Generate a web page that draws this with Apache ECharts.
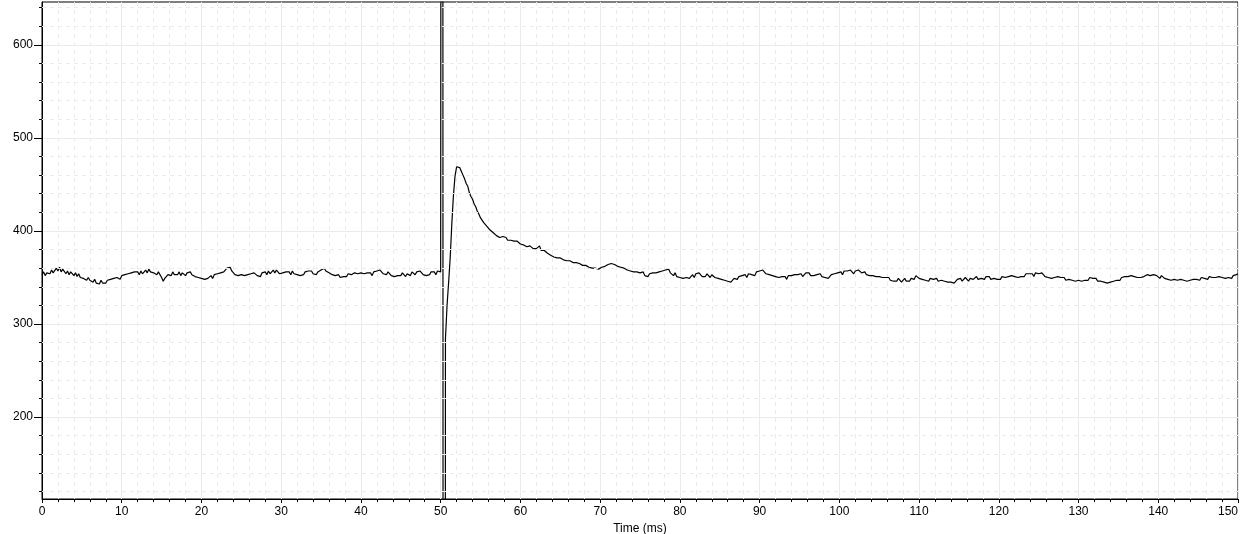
<!DOCTYPE html>
<html>
<head>
<meta charset="utf-8">
<script src="https://cdn.jsdelivr.net/npm/echarts@6/dist/echarts.min.js"></script>
<style>
html,body{margin:0;padding:0;background:#fff;}
#chart{width:1242px;height:534px;}
</style>
</head>
<body>
<div id="chart"></div>
<script>
// sampling interval of the trace (ms)
const sampleStep = 0.2;
// trace values, one per sample from t = 0 to t = 150 ms
const traceValues = [
353,356,352,355,357, 354,358,355,357,360, 357,361,356,359,357, 354,357,353,356,355, 352,355,351,354,350,
352,349,351,347,350, 347,349,345,348,344, 346,343,347,344,346, 344,347,345,348,346, 349,347,350,351,348,
352,350,353,351,354, 352,355,353,356,354, 356,353,357,354,356, 358,355,359,356,358, 355,357,353,356,354,
350,346,349,351,353, 355,352,356,353,355, 353,356,352,355,354, 352,355,353,356,353, 354,351,353,350,352,
349,347,348,346,349, 350,352,349,353,351, 354,352,355,353,356, 357,360,358,361,357, 356,353,355,352,354,
353,355,352,354,353, 351,354,352,355,353, 352,354,351,355,353, 356,353,357,354,356, 358,355,358,356,354,
352,355,353,356,354, 356,353,357,354,355, 353,355,352,354,353, 356,354,357,355,357, 354,356,353,356,355,
358,356,360,357,358, 355,357,353,355,352, 351,353,350,352,351, 353,351,354,352,353, 352,355,353,354,352,
355,353,354,352,355, 353,355,352,356,354, 357,355,358,356,354, 355,353,356,354,352, 354,351,353,352,354,
352,355,353,351,354, 355,352,356,354,353, 356,354,357,355,353, 355,352,354,353,356, 354,356,353,357,355,
356,3000,-3000,284,320, 345,372,408,438,459, 469,471,468,464,460, 456,451,448,441,437, 434,429,426,421,418,
414,412,409,408,405, 404,401,401,398,397, 395,396,393,393,394, 392,393,390,389,390, 388,389,387,389,388,
386,387,385,385,383, 384,384,382,381,383, 381,380,384,379,378, 379,377,376,375,374, 373,372,371,371,369,
371,370,369,370,368, 367,368,366,366,365, 366,364,365,363,363, 362,363,361,361,360, 360,359,360,358,359,
360,361,360,362,362, 364,363,365,364,364, 363,362,363,361,359, 360,358,358,356,357, 356,356,355,356,355,
355,353,356,352,354, 351,354,352,355,353, 355,353,356,354,357, 355,358,356,359,355, 354,352,355,351,353,
350,352,349,351,350, 352,349,351,353,350, 354,352,355,353,351, 353,351,354,352,350, 353,351,350,352,349,
350,348,349,347,349, 346,348,345,347,349, 350,348,351,349,352, 351,353,350,354,352, 353,355,352,356,354,
357,355,358,356,354, 356,353,355,352,354, 351,353,350,352,351, 349,351,348,352,350, 352,350,353,351,353,
352,354,351,353,355, 353,355,352,354,352, 351,353,352,354,351, 352,350,352,349,351, 353,351,354,352,355,
354,356,353,357,355, 357,355,358,356,354, 357,355,358,356,355, 354,356,353,355,352, 354,352,353,351,353,
351,349,350,348,350, 348,350,347,349,346, 348,346,349,347,345, 347,349,346,348,346, 349,351,348,352,350,
349,351,348,350,347, 348,346,349,347,348, 347,349,346,348,347, 348,346,347,345,347, 345,347,344,346,348,
347,349,346,348,350, 348,346,349,347,348, 349,351,348,350,349, 350,348,351,349,351, 348,350,349,351,348,
350,348,351,349,350, 348,351,349,352,350, 351,353,350,352,351, 353,351,354,352,354, 352,354,351,355,353,
354,352,355,353,351, 352,350,351,349,351, 350,348,351,349,350, 348,350,347,349,348, 350,347,349,346,348,
347,349,346,348,347, 349,347,350,348,349, 347,349,346,348,346, 347,345,346,344,346, 345,347,346,348,347,
349,347,350,348,351, 349,351,350,352,350, 351,349,350,348,350, 349,351,350,353,351, 352,350,353,351,352,
351,349,352,350,349, 350,348,349,347,349, 348,350,347,349,348, 349,347,348,346,348, 347,349,348,350,348,
349,347,350,348,349, 350,348,351,349,350, 348,350,349,351,349, 350,348,349,347,350, 351,349,352,350,353,
354
];
// axis ticks
const xTicks = [0,10,20,30,40,50,60,70,80,90,100,110,120,130,140,150];
const yMajorTicks = [200,300,400,500,600];
const yMinorTicks = [120,140,160,180,220,240,260,280,320,340,360,380,420,440,460,480,520,540,560,580,620,640];
const xRange = [0,150];
const yRange = [112,646];
const xName = 'Time (ms)';

const tracePoints = traceValues.map((v,i) => [Math.round(i*sampleStep*10)/10, v]);

const font = '"Liberation Sans", Arial, sans-serif';
const chart = echarts.init(document.getElementById('chart'), null, {renderer:'canvas'});
chart.setOption({
  animation: false,
  backgroundColor: '#fff',
  grid: {left: 42, right: 4, top: 2, bottom: 35, containLabel: false, outerBoundsMode: 'none',
         show: true, borderColor: '#000', borderWidth: 1, backgroundColor: 'transparent'},
  xAxis: [{
    type: 'value', min: xRange[0], max: xRange[1], interval: 10,
    name: xName, nameLocation: 'middle', nameGap: 22,
    nameTextStyle: {color: '#000', fontSize: 12, fontFamily: font},
    axisLine: {show: true, onZero: false, lineStyle: {color: '#000', width: 1}},
    axisTick: {show: true, length: 4, lineStyle: {color: '#000'}},
    minorTick: {show: true, splitNumber: 5, length: 3, lineStyle: {color: '#000'}},
    axisLabel: {color: '#000', fontSize: 12, fontFamily: font, margin: 7, customValues: xTicks, alignMaxLabel: 'right'},
    splitLine: {show: true, lineStyle: {color: '#ebebeb', width: 1}},
    minorSplitLine: {show: true, lineStyle: {color: '#ebebeb', width: 1, type: [4,4]}}
  }],
  yAxis: [{
    type: 'value', min: yRange[0], max: yRange[1],
    axisLine: {show: true, onZero: false, lineStyle: {color: '#000', width: 1}},
    axisTick: {show: true, length: 8, customValues: yMajorTicks, lineStyle: {color: '#000'}},
    axisLabel: {color: '#000', fontSize: 12, fontFamily: font, margin: 9, customValues: yMajorTicks},
    splitLine: {show: true, lineStyle: {color: '#ebebeb', width: 1}}
  }, {
    type: 'value', min: yRange[0], max: yRange[1], position: 'left',
    axisLine: {show: false},
    axisTick: {show: true, length: 3, customValues: yMinorTicks, lineStyle: {color: '#000'}},
    axisLabel: {show: false},
    splitLine: {show: false}
  }],
  series: [{
    type: 'line', data: [], yAxisIndex: 0, z: 1, silent: true,
    markLine: {
      silent: true, symbol: ['none','none'], label: {show: false}, animation: false,
      lineStyle: {color: '#ebebeb', width: 1, type: [4,4]},
      emphasis: {disabled: true},
      data: yMinorTicks.map(v => ({yAxis: v}))
    }
  }, {
    type: 'line', data: tracePoints, yAxisIndex: 0, z: 3,
    showSymbol: false, symbol: 'none', sampling: 'none', clip: true,
    lineStyle: {color: '#000', width: 1.2}, silent: true
  }]
});
</script>
</body>
</html>
